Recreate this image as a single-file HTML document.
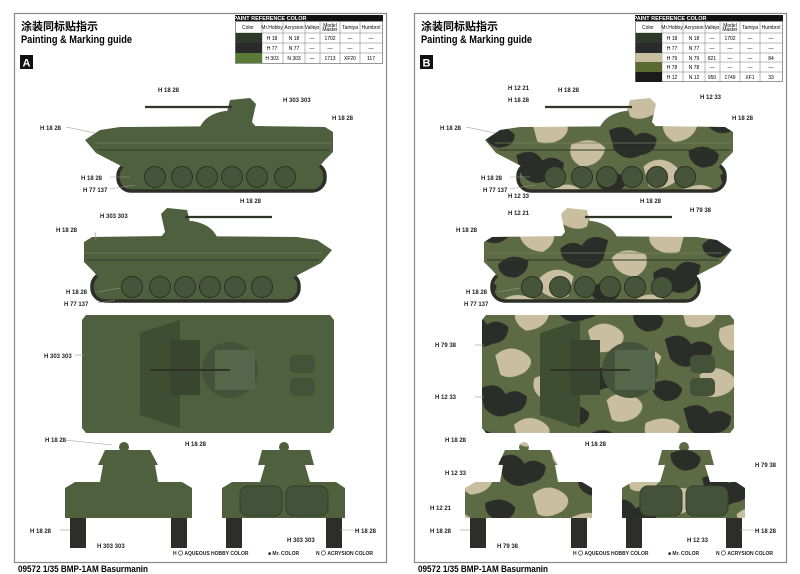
<!DOCTYPE html>
<html><head><meta charset="utf-8"><style>
html,body{margin:0;padding:0;background:#fff;}
svg{display:block;font-family:"Liberation Sans","Noto Sans CJK SC",sans-serif;}
</style></head><body>
<svg width="800" height="574" viewBox="0 0 800 574" xmlns="http://www.w3.org/2000/svg">
<defs>
<pattern id="camo" patternUnits="userSpaceOnUse" width="120" height="90" patternTransform="scale(0.8) rotate(-15)">
<rect width="120" height="90" fill="#5d6b45"/>
<path d="M0 10 Q20 0 35 15 Q50 30 30 40 Q10 45 0 35Z" fill="#c9bfa0"/>
<path d="M60 5 Q85 0 95 20 Q90 35 70 30 Q55 20 60 5Z" fill="#2b2d28"/>
<path d="M40 50 Q70 45 80 65 Q70 85 45 80 Q30 65 40 50Z" fill="#c9bfa0"/>
<path d="M90 45 Q115 40 120 60 L120 85 Q100 90 90 70Z" fill="#2b2d28"/>
<path d="M0 60 Q15 55 25 70 Q20 88 0 85Z" fill="#2b2d28"/>
</pattern>
<g id="side">
<rect x="118" y="163" width="207" height="28" rx="13" stroke="#2c2e27" stroke-width="3.5"/>
<path d="M85 140 L100 130 L120 127 L250 126 L325 127 L333 132 L333 152 L325 160 L318 168 L125 168 L96 153Z"/>
<path d="M98 150 L330 150" stroke="#2f3a25" stroke-width="1" fill="none"/>
<path d="M95 143 L332 143" stroke="#6f7d5e" stroke-width="0.8" fill="none"/>
<path d="M200 127 Q206 114 225 111 Q245 111 256 127Z"/>
<path d="M226 116 L230 100 L250 98 L256 104 L252 122Z"/>
<line x1="145" y1="107" x2="232" y2="107" stroke="#2f3526" stroke-width="2.2"/>
<g fill="#46553a" stroke="#2a2f24" stroke-width="1">
<circle cx="155" cy="177" r="10.5"/><circle cx="182" cy="177" r="10.5"/><circle cx="207" cy="177" r="10.5"/>
<circle cx="232" cy="177" r="10.5"/><circle cx="257" cy="177" r="10.5"/><circle cx="285" cy="177" r="10.5"/>
</g>
</g>
<g id="top">
<path d="M86 315 L330 315 L334 320 L334 428 L330 433 L86 433 L82 428 L82 320Z"/>
<path d="M140 333 L180 320 L180 428 L140 415Z" fill="#3f4d33"/>
<rect x="170" y="340" width="30" height="55" fill="#3a4530"/>
<circle cx="230" cy="370" r="28" fill="#44523a"/>
<rect x="215" y="350" width="40" height="40" fill="#56664a"/>
<line x1="150" y1="370" x2="230" y2="370" stroke="#2f3526" stroke-width="2"/>
<rect x="290" y="355" width="25" height="18" rx="5" fill="#44523a"/>
<rect x="290" y="378" width="25" height="18" rx="5" fill="#44523a"/>
</g>
<g id="front">
<rect x="70" y="510" width="16" height="38" fill="#2c2e27"/>
<rect x="171" y="510" width="16" height="38" fill="#2c2e27"/>
<path d="M65 488 L75 482 L182 482 L192 488 L192 518 L65 518Z"/>
<path d="M100 482 L103 465 L155 465 L158 482Z"/>
<path d="M98 465 L105 450 L150 450 L158 465Z"/>
<circle cx="124" cy="447" r="5"/>
</g>
<g id="rear">
<rect x="226" y="510" width="16" height="38" fill="#2c2e27"/>
<rect x="326" y="510" width="16" height="38" fill="#2c2e27"/>
<path d="M222 488 L232 482 L336 482 L345 488 L345 518 L222 518Z"/>
<path d="M260 482 L265 465 L305 465 L310 482Z"/>
<path d="M258 465 L262 450 L310 450 L314 465Z"/>
<circle cx="284" cy="447" r="5"/>
<rect x="240" y="486" width="42" height="30" rx="8" fill="#44523a" stroke="#33402b"/>
<rect x="286" y="486" width="42" height="30" rx="8" fill="#44523a" stroke="#33402b"/>
</g>
</defs>

<!-- LEFT PAGE -->
<rect x="14.5" y="13.5" width="372" height="549" fill="#fff" stroke="#888" stroke-width="1.2"/>
<text x="21" y="30" font-size="11" font-weight="bold">涂装同标贴指示</text>
<text x="21" y="43" font-size="11" font-weight="bold" textLength="111" lengthAdjust="spacingAndGlyphs">Painting &amp; Marking guide</text>
<rect x="20" y="55" width="13" height="14" fill="#111"/>
<text x="22.5" y="66.5" font-size="11" font-weight="bold" fill="#fff">A</text>
<g font-size="5" text-anchor="middle">
<rect x="235" y="15" width="148" height="6" fill="#111"/>
<text x="270" y="20" fill="#fff" font-weight="bold" font-size="5.5">PAINT REFERENCE COLOR</text>
<rect x="235.5" y="21.5" width="147" height="42" fill="none" stroke="#555" stroke-width="0.6"/>
<g stroke="#777" stroke-width="0.5">
<line x1="262" y1="21" x2="262" y2="64"/><line x1="283" y1="21" x2="283" y2="64"/><line x1="305" y1="21" x2="305" y2="64"/><line x1="320" y1="21" x2="320" y2="64"/><line x1="340" y1="21" x2="340" y2="64"/><line x1="360" y1="21" x2="360" y2="64"/>
<line x1="235" y1="33" x2="383" y2="33"/><line x1="235" y1="43" x2="383" y2="43"/><line x1="235" y1="53" x2="383" y2="53"/>
</g>
<text x="248" y="29">Color</text><text x="272" y="29">Mr.Hobby</text><text x="294" y="29">Acrysion</text><text x="312" y="29">Vallejo</text><text x="330" y="27">Model</text><text x="330" y="31">Master</text><text x="350" y="29">Tamiya</text><text x="371" y="29">Humbrol</text>
<rect x="235.5" y="33" width="26.5" height="10" fill="#2e3a2a"/><rect x="235.5" y="43" width="26.5" height="10" fill="#2a2a2a"/><rect x="235.5" y="53" width="26.5" height="10" fill="#5a7a3a"/>
<text x="272" y="40">H 18</text><text x="294" y="40">N 18</text><text x="312" y="40">—</text><text x="330" y="40">1702</text><text x="350" y="40">—</text><text x="371" y="40">—</text>
<text x="272" y="50">H 77</text><text x="294" y="50">N 77</text><text x="312" y="50">—</text><text x="330" y="50">—</text><text x="350" y="50">—</text><text x="371" y="50">—</text>
<text x="272" y="60">H 303</text><text x="294" y="60">N 303</text><text x="312" y="60">—</text><text x="330" y="60">1713</text><text x="350" y="60">XF20</text><text x="371" y="60">117</text>
</g>
<g fill="#4f603f">
<use href="#side"/>
<use href="#side" transform="translate(417,110) scale(-1,1)"/>
<use href="#top"/>
<use href="#front"/>
<use href="#rear"/>
</g>
<g font-size="6" font-weight="bold" fill="#222" stroke-width="0.6">
<g stroke="#999"><line x1="66" y1="127" x2="95" y2="133"/><line x1="110" y1="177" x2="130" y2="177"/><line x1="110" y1="189" x2="135" y2="185"/><line x1="95" y1="232" x2="96" y2="240"/><line x1="98" y1="292" x2="120" y2="288"/><line x1="98" y1="303" x2="115" y2="300"/><line x1="75" y1="355" x2="84" y2="355"/><line x1="65" y1="440" x2="112" y2="445"/><line x1="60" y1="530" x2="70" y2="530"/><line x1="340" y1="530" x2="360" y2="530"/></g>
<text x="40" y="130">H 18 28</text><text x="158" y="92">H 18 28</text><text x="283" y="102">H 303 303</text><text x="332" y="120">H 18 28</text>
<text x="81" y="180">H 18 28</text><text x="83" y="192">H 77 137</text>
<text x="100" y="218">H 303 303</text><text x="56" y="232">H 18 28</text><text x="240" y="203">H 18 28</text>
<text x="66" y="294">H 18 28</text><text x="64" y="306">H 77 137</text>
<text x="44" y="358">H 303 303</text><text x="45" y="442">H 18 28</text><text x="185" y="446">H 18 28</text>
<text x="30" y="533">H 18 28</text><text x="97" y="548">H 303 303</text><text x="287" y="542">H 303 303</text><text x="355" y="533">H 18 28</text>
</g>
<g font-size="5" font-weight="bold" fill="#222">
<text x="173" y="555">H 〇 AQUEOUS HOBBY COLOR</text><text x="268" y="555">■ Mr. COLOR</text><text x="316" y="555">N 〇 ACRYSION COLOR</text>
</g>
<text x="18" y="572" font-size="9" font-weight="bold" textLength="130" lengthAdjust="spacingAndGlyphs">09572 1/35 BMP-1AM Basurmanin</text>

<!-- RIGHT PAGE -->
<g transform="translate(400,0)">
<rect x="14.5" y="13.5" width="372" height="549" fill="#fff" stroke="#888" stroke-width="1.2"/>
<text x="21" y="30" font-size="11" font-weight="bold">涂装同标贴指示</text>
<text x="21" y="43" font-size="11" font-weight="bold" textLength="111" lengthAdjust="spacingAndGlyphs">Painting &amp; Marking guide</text>
<rect x="20" y="55" width="13" height="14" fill="#111"/>
<text x="22.5" y="66.5" font-size="11" font-weight="bold" fill="#fff">B</text>
<g font-size="5" text-anchor="middle">
<rect x="235" y="15" width="148" height="6" fill="#111"/>
<text x="270" y="20" fill="#fff" font-weight="bold" font-size="5.5">PAINT REFERENCE COLOR</text>
<rect x="235.5" y="21.5" width="147" height="60" fill="none" stroke="#555" stroke-width="0.6"/>
<g stroke="#777" stroke-width="0.5">
<line x1="262" y1="21" x2="262" y2="82"/><line x1="283" y1="21" x2="283" y2="82"/><line x1="305" y1="21" x2="305" y2="82"/><line x1="320" y1="21" x2="320" y2="82"/><line x1="340" y1="21" x2="340" y2="82"/><line x1="360" y1="21" x2="360" y2="82"/>
<line x1="235" y1="33" x2="383" y2="33"/><line x1="235" y1="43" x2="383" y2="43"/><line x1="235" y1="53" x2="383" y2="53"/><line x1="235" y1="62" x2="383" y2="62"/><line x1="235" y1="72" x2="383" y2="72"/>
</g>
<text x="248" y="29">Color</text><text x="272" y="29">Mr.Hobby</text><text x="294" y="29">Acrysion</text><text x="312" y="29">Vallejo</text><text x="330" y="27">Model</text><text x="330" y="31">Master</text><text x="350" y="29">Tamiya</text><text x="371" y="29">Humbrol</text>
<rect x="235.5" y="33" width="26.5" height="10" fill="#2e3a2a"/><rect x="235.5" y="43" width="26.5" height="10" fill="#2a2a2a"/><rect x="235.5" y="53" width="26.5" height="9" fill="#c9bfa0"/><rect x="235.5" y="62" width="26.5" height="10" fill="#5a6a30"/><rect x="235.5" y="72" width="26.5" height="10" fill="#1a1a1a"/>
<text x="272" y="40">H 18</text><text x="294" y="40">N 18</text><text x="312" y="40">—</text><text x="330" y="40">1702</text><text x="350" y="40">—</text><text x="371" y="40">—</text>
<text x="272" y="50">H 77</text><text x="294" y="50">N 77</text><text x="312" y="50">—</text><text x="330" y="50">—</text><text x="350" y="50">—</text><text x="371" y="50">—</text>
<text x="272" y="60">H 79</text><text x="294" y="60">N 79</text><text x="312" y="60">821</text><text x="330" y="60">—</text><text x="350" y="60">—</text><text x="371" y="60">84</text>
<text x="272" y="69">H 78</text><text x="294" y="69">N 78</text><text x="312" y="69">—</text><text x="330" y="69">—</text><text x="350" y="69">—</text><text x="371" y="69">—</text>
<text x="272" y="79">H 12</text><text x="294" y="79">N 12</text><text x="312" y="79">950</text><text x="330" y="79">1749</text><text x="350" y="79">XF1</text><text x="371" y="79">33</text>
</g>
<g fill="url(#camo)">
<use href="#side"/>
<use href="#side" transform="translate(417,110) scale(-1,1)"/>
<use href="#top"/>
<use href="#front"/>
<use href="#rear"/>
</g>
<g font-size="6" font-weight="bold" fill="#222" stroke-width="0.6">
<g stroke="#999"><line x1="66" y1="127" x2="95" y2="133"/><line x1="110" y1="177" x2="130" y2="177"/><line x1="110" y1="189" x2="135" y2="185"/><line x1="98" y1="292" x2="120" y2="288"/><line x1="75" y1="345" x2="84" y2="345"/><line x1="75" y1="397" x2="84" y2="397"/><line x1="60" y1="530" x2="70" y2="530"/><line x1="340" y1="530" x2="360" y2="530"/></g>
<text x="40" y="130">H 18 28</text><text x="108" y="90">H 12 21</text><text x="108" y="102">H 18 28</text><text x="158" y="92">H 18 28</text><text x="300" y="99">H 12 33</text><text x="332" y="120">H 18 28</text>
<text x="81" y="180">H 18 28</text><text x="83" y="192">H 77 137</text><text x="108" y="198">H 12 33</text>
<text x="108" y="215">H 12 21</text><text x="56" y="232">H 18 28</text><text x="240" y="203">H 18 28</text><text x="290" y="212">H 79 38</text>
<text x="66" y="294">H 18 28</text><text x="64" y="306">H 77 137</text>
<text x="35" y="347">H 79 38</text><text x="35" y="399">H 12 33</text><text x="45" y="442">H 18 28</text><text x="45" y="475">H 12 33</text><text x="185" y="446">H 18 28</text><text x="355" y="467">H 79 38</text>
<text x="30" y="510">H 12 21</text><text x="30" y="533">H 18 28</text><text x="97" y="548">H 79 38</text><text x="287" y="542">H 12 33</text><text x="355" y="533">H 18 28</text>
</g>
<g font-size="5" font-weight="bold" fill="#222">
<text x="173" y="555">H 〇 AQUEOUS HOBBY COLOR</text><text x="268" y="555">■ Mr. COLOR</text><text x="316" y="555">N 〇 ACRYSION COLOR</text>
</g>
<text x="18" y="572" font-size="9" font-weight="bold" textLength="130" lengthAdjust="spacingAndGlyphs">09572 1/35 BMP-1AM Basurmanin</text>
</g>
</svg>
</body></html>
